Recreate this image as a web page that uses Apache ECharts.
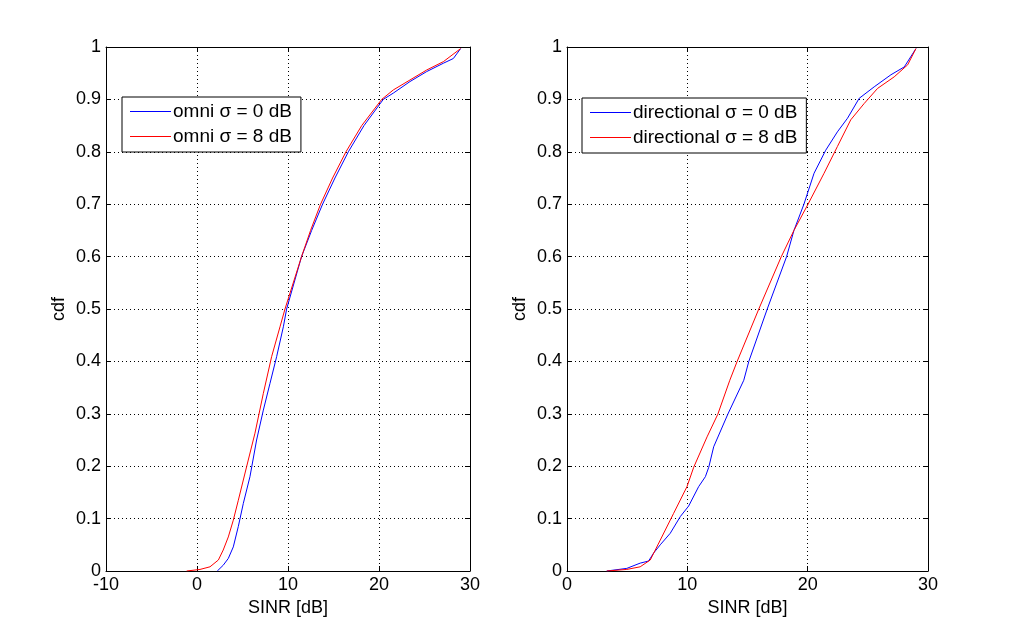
<!DOCTYPE html>
<html>
<head>
<meta charset="utf-8">
<script src="https://cdn.jsdelivr.net/npm/echarts@6/dist/echarts.min.js"></script>
<style>
  html, body { margin: 0; padding: 0; background: #fff; }
  #chart { width: 1025px; height: 643px; }
</style>
</head>
<body>
<div id="chart"></div>
<script>
// tick labels
const leftXTicks = [-10, 0, 10, 20, 30];
const rightXTicks = [0, 10, 20, 30];

// omni, sigma = 0 dB (SINR dB, cdf)
const omni0X = [2.23, 2.88, 3.44, 3.99, 4.54, 5.09, 5.82, 6.55, 7.29, 8.02, 8.75, 9.49, 9.85, 11.49, 12.6, 13.8, 15.16, 16.63, 18.35, 20.47, 21.57, 23.4, 25.23, 27.07, 28.17, 28.97];
const omni0Y = [0, 0.011, 0.024, 0.046, 0.085, 0.129, 0.18, 0.25, 0.307, 0.358, 0.409, 0.466, 0.5, 0.6, 0.65, 0.7, 0.75, 0.8, 0.85, 0.9, 0.912, 0.934, 0.953, 0.969, 0.978, 0.997];

// omni, sigma = 8 dB
const omni8X = [-1.14, 0.33, 1.43, 2.35, 2.88, 3.44, 3.99, 4.54, 5.45, 6.37, 7.29, 8.2, 9.12, 9.67, 11.49, 12.48, 13.58, 14.9, 16.37, 18.1, 20.3, 21.57, 23.4, 25.23, 27.07, 28.97];
const omni8Y = [0, 0.003, 0.008, 0.021, 0.04, 0.065, 0.097, 0.135, 0.199, 0.263, 0.339, 0.409, 0.466, 0.5, 0.6, 0.65, 0.7, 0.75, 0.8, 0.85, 0.9, 0.918, 0.937, 0.956, 0.972, 0.997];

// directional, sigma = 0 dB
const dir0X = [3.3, 4.97, 6.08, 6.78, 7.19, 7.75, 8.58, 9.42, 10.11, 10.94, 11.5, 11.78, 12.19, 13.36, 14.69, 15.11, 16.64, 18.25, 18.86, 19.69, 20.53, 21.5, 22.47, 23.31, 24.28, 25.53, 26.92, 28.03, 29];
const dir0Y = [0, 0.005, 0.015, 0.019, 0.034, 0.05, 0.072, 0.104, 0.124, 0.161, 0.18, 0.198, 0.237, 0.299, 0.364, 0.4, 0.5, 0.6, 0.65, 0.7, 0.759, 0.803, 0.838, 0.864, 0.902, 0.924, 0.947, 0.962, 0.997];

// directional, sigma = 8 dB
const dir8X = [3.3, 4.97, 6.08, 6.92, 7.75, 8.86, 9.97, 10.53, 11.64, 12.53, 13.53, 14.14, 15.94, 17.81, 18.86, 20.03, 21.36, 22.47, 23.58, 24.69, 25.81, 27.19, 28.31, 29];
const dir8Y = [0, 0.003, 0.008, 0.021, 0.059, 0.11, 0.161, 0.198, 0.256, 0.299, 0.364, 0.4, 0.5, 0.6, 0.65, 0.7, 0.759, 0.81, 0.861, 0.892, 0.921, 0.943, 0.966, 0.997];

const FONT = 'Liberation Sans, Arial, Helvetica, sans-serif';
const zip = (xs, ys) => xs.map((x, i) => [x, ys[i]]);

const chart = echarts.init(document.getElementById('chart'));

function xAxes(gridIndex, ticks) {
  const base = {
    gridIndex: gridIndex, type: 'value',
    min: ticks[0], max: ticks[ticks.length - 1], interval: ticks[1] - ticks[0],
    axisLine: { show: true, onZero: false, lineStyle: { color: '#000', width: 1 } },
    axisTick: { show: true, inside: true, length: 5, lineStyle: { color: '#000' } }
  };
  return [
    Object.assign({}, base, {
      position: 'bottom',
      name: 'SINR [dB]', nameLocation: 'middle', nameGap: 26,
      nameTextStyle: { color: '#000', fontSize: 18, fontFamily: FONT },
      axisLabel: { color: '#000', fontSize: 18, fontFamily: FONT, margin: 5 },
      splitLine: { show: true, lineStyle: { color: '#000', type: [1, 3], width: 1 } }
    }),
    Object.assign({}, base, {
      position: 'top', axisLabel: { show: false }, splitLine: { show: false }
    })
  ];
}

function yAxes(gridIndex) {
  const base = {
    gridIndex: gridIndex, type: 'value', min: 0, max: 1, interval: 0.1,
    axisLine: { show: true, onZero: false, lineStyle: { color: '#000', width: 1 } },
    axisTick: { show: true, inside: true, length: 5, lineStyle: { color: '#000' } }
  };
  return [
    Object.assign({}, base, {
      position: 'left',
      name: 'cdf', nameLocation: 'middle', nameGap: 38, nameRotate: 90,
      nameTextStyle: { color: '#000', fontSize: 18, fontFamily: FONT },
      axisLabel: { color: '#000', fontSize: 18, fontFamily: FONT, margin: 5 },
      splitLine: { show: true, lineStyle: { color: '#000', type: [1, 3], width: 1 } }
    }),
    Object.assign({}, base, {
      position: 'right', axisLabel: { show: false }, splitLine: { show: false }
    })
  ];
}

function legendBox(left, top, names) {
  return {
    data: names,
    left: left, top: top,
    orient: 'vertical',
    backgroundColor: '#fff',
    borderColor: '#000', borderWidth: 1, borderRadius: 0,
    padding: [5, 9, 6, 8],
    itemWidth: 41, itemHeight: 1, itemGap: 6,
    icon: 'rect',
    selectedMode: false,
    textStyle: { color: '#000', fontSize: 19, fontFamily: FONT, padding: [0, 0, 0, -3] }
  };
}

function lineSeries(name, xi, yi, data, color) {
  return {
    name: name, type: 'line', xAxisIndex: xi, yAxisIndex: yi,
    data: data, symbol: 'none', smooth: false, animation: false,
    lineStyle: { color: color, width: 1 }, itemStyle: { color: color }
  };
}

const option = {
  backgroundColor: '#fff',
  animation: false,
  grid: [
    { left: 106, top: 47, width: 364, height: 524 },
    { left: 567, top: 47, width: 361, height: 524 }
  ],
  legend: [
    legendBox(122, 97, ['omni σ = 0 dB', 'omni σ = 8 dB']),
    legendBox(582, 98, ['directional σ = 0 dB', 'directional σ = 8 dB'])
  ],
  xAxis: xAxes(0, leftXTicks).concat(xAxes(1, rightXTicks)),
  yAxis: yAxes(0).concat(yAxes(1)),
  series: [
    lineSeries('omni σ = 0 dB', 0, 0, zip(omni0X, omni0Y), '#0000ff'),
    lineSeries('omni σ = 8 dB', 0, 0, zip(omni8X, omni8Y), '#ff0000'),
    lineSeries('directional σ = 0 dB', 2, 2, zip(dir0X, dir0Y), '#0000ff'),
    lineSeries('directional σ = 8 dB', 2, 2, zip(dir8X, dir8Y), '#ff0000')
  ]
};

chart.setOption(option);
</script>
</body>
</html>
